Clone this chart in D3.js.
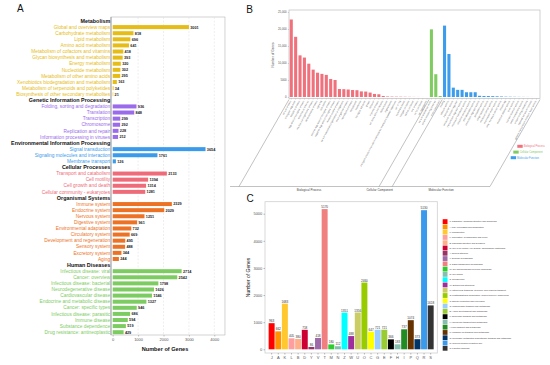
<!DOCTYPE html>
<html><head><meta charset="utf-8">
<script src="https://cdn.jsdelivr.net/npm/d3@7"></script>
<style>body{margin:0;background:#fff} svg{display:block;font-family:"Liberation Sans",Arial,sans-serif}</style>
</head><body>
<svg id="c" width="550" height="365"></svg>
<script>
// ---------- Panel A data (KEGG) ----------
const keggGroups = ["Metabolism","Genetic Information Processing","Environmental Information Processing","Cellular Processes","Organismal Systems","Human Diseases"];
const keggColors = ["#E6BC16","#9A6BEA","#3A9BEC","#EE6C79","#EC7326","#7CCC62"];
const metabolismLabels = ["Global and overview maps","Carbohydrate metabolism","Lipid metabolism","Amino acid metabolism","Metabolism of cofactors and vitamins","Glycan biosynthesis and metabolism","Energy metabolism","Nucleotide metabolism","Metabolism of other amino acids","Xenobiotics biodegradation and metabolism","Metabolism of terpenoids and polyketides","Biosynthesis of other secondary metabolites"];
const metabolismValues = [3001,818,696,641,418,393,320,302,295,163,34,21];
const geneticLabels = ["Folding, sorting and degradation","Translation","Transcription","Chromosome","Replication and repair","Information processing in viruses"];
const geneticValues = [936,848,299,292,228,212];
const environmentalLabels = ["Signal transduction","Signaling molecules and interaction","Membrane transport"];
const environmentalValues = [3654,1761,126];
const cellularLabels = ["Transport and catabolism","Cell motility","Cell growth and death","Cellular community - eukaryotes"];
const cellularValues = [2133,1394,1314,1281];
const organismalLabels = ["Immune system","Endocrine system","Nervous system","Digestive system","Environmental adaptation","Circulatory system","Development and regeneration","Sensory system","Excretory system","Aging"];
const organismalValues = [2329,2029,1251,961,732,669,495,488,344,244];
const diseaseLabels = ["Infectious disease: viral","Cancer: overview","Infectious disease: bacterial","Neurodegenerative disease","Cardiovascular disease","Endocrine and metabolic disease","Cancer: specific types","Infectious disease: parasitic","Immune disease","Substance dependence","Drug resistance: antineoplastic"];
const diseaseValues = [2714,2542,1798,1626,1546,1327,946,686,594,519,429];
const keggTicks = [0,1000,2000,3000,4000];

// ---------- Panel B data (GO) ----------
const goBPLabels = ["cellular process","biological regulation","metabolic process","regulation of biological process","response to stimulus","multicellular organismal process","developmental process","signaling","localization","positive regulation of biological process","negative regulation of biological process","immune system process","cellular component organization or biogenesis","multi-organism process","reproductive process","reproduction","locomotion","biological adhesion","growth","behavior","rhythmic process","cell population proliferation","detoxification","pigmentation","biological process involved in interspecies interaction between organisms","cell killing","biomineralization","nitrogen utilization","carbon utilization","viral process","sulfur utilization","cell aggregation"];
const goBPValues = [22800,17700,12250,11600,9800,8050,7150,6800,6500,5300,5000,2350,2300,2200,2050,2000,1650,1600,1300,900,800,300,150,120,100,90,70,50,30,20,10,5];
const goCCLabels = ["cellular anatomical entity","protein-containing complex","virion component"];
const goCCValues = [19900,6700,300];
const goMFLabels = ["binding","catalytic activity","transporter activity","molecular function regulator","transcription regulator activity","molecular transducer activity","structural molecule activity","ATP-dependent activity","translation regulator activity","antioxidant activity","cargo receptor activity","molecular carrier activity","cytoskeletal motor activity","small molecule sensor activity","protein tag","molecular adaptor activity","toxin activity","nutrient reservoir activity","metallochaperone activity","protein folding chaperone","hijacked molecular function","general transcription initiation factor activity"];
const goMFValues = [21000,12650,2750,2100,2100,1400,1400,1400,350,300,280,250,200,150,100,80,60,40,30,20,10,5];
const goClassNames = ["Biological Process","Cellular Component","Molecular Function"];
const goColors = ["#F0707B","#80CC62","#3C9DEC"];
const goTicks = [0,5000,10000,15000,20000,25000];

// ---------- Panel C data (KOG) ----------
const kogCodes = ["J","A","K","L","B","D","Y","V","T","M","N","Z","W","U","O","C","G","E","F","H","I","P","Q","R","S"];
const kogValues = [963,662,1683,405,380,718,86,418,5170,180,112,1351,488,1356,2460,647,721,721,366,183,737,1074,373,5130,1618];
const kogNames = ["Translation, ribosomal structure and biogenesis","RNA processing and modification","Transcription","Replication, recombination and repair","Chromatin structure and dynamics","Cell cycle control, cell division, chromosome partitioning","Nuclear structure","Defense mechanisms","Signal transduction mechanisms","Cell wall/membrane/envelope biogenesis","Cell motility","Cytoskeleton","Extracellular structures","Intracellular trafficking, secretion, and vesicular transport","Posttranslational modification, protein turnover, chaperones","Energy production and conversion","Carbohydrate transport and metabolism","Amino acid transport and metabolism","Nucleotide transport and metabolism","Coenzyme transport and metabolism","Lipid transport and metabolism","Inorganic ion transport and metabolism","Secondary metabolites biosynthesis, transport and catabolism","General function prediction only","Function unknown"];
const kogColors = ["#FF0000","#FF9400","#FFC82E","#FF9E9E","#FFB088","#CC0033","#993366","#9E6BA8","#F08080","#2ECC2E","#86BFAE","#00FFFF","#9E2E9E","#CCCC66","#99CC00","#FFFF00","#99CCFF","#99CC33","#000000","#86BFAE","#228B22","#663300","#003366","#3A9BEC","#333333"];
const kogTicks = [0,1000,2000,3000,4000,5000];

const svg = d3.select("#c");
const plainFmt = d3.format("d");

// ================= Panel A =================
(function(){
  const g = svg.append("g");
  const groupLabels = [metabolismLabels,geneticLabels,environmentalLabels,cellularLabels,organismalLabels,diseaseLabels];
  const groupValues = [metabolismValues,geneticValues,environmentalValues,cellularValues,organismalValues,diseaseValues];
  const rows = [];
  keggGroups.forEach((h,gi)=>{
    rows.push({type:"h",label:h,id:"h"+gi});
    groupLabels[gi].forEach((l,i)=>rows.push({type:"b",label:l,value:groupValues[gi][i],color:keggColors[gi],id:gi+"_"+i}));
  });
  const y = d3.scalePoint().domain(rows.map(r=>r.id)).range([21,332.2]);
  const x = d3.scaleLinear().domain([0,4000]).range([112.7,214.3]);
  const top=17, bot=335, left=x(-67), right=x(4420);
  g.append("rect").attr("x",left).attr("y",top).attr("width",right-left).attr("height",bot-top)
    .attr("fill","#fff").attr("stroke","#b5b5b5").attr("stroke-width",0.6);
  g.selectAll("line.grid").data(keggTicks.slice(1)).join("line").attr("class","grid")
    .attr("x1",d=>x(d)).attr("x2",d=>x(d)).attr("y1",top).attr("y2",bot)
    .attr("stroke","#dcdcdc").attr("stroke-width",0.5).attr("stroke-dasharray","2,1.5");
  g.append("line").attr("x1",left).attr("x2",left).attr("y1",top).attr("y2",bot).attr("stroke","#888").attr("stroke-width",0.7);
  const bars = rows.filter(r=>r.type==="b");
  g.selectAll("rect.bar").data(bars).join("rect").attr("class","bar")
    .attr("x",x(0)).attr("y",d=>y(d.id)-2).attr("width",d=>x(d.value)-x(0)).attr("height",4).attr("fill",d=>d.color);
  g.selectAll("text.val").data(bars).join("text").attr("class","val")
    .attr("x",d=>x(d.value)+1.3).attr("y",d=>y(d.id)+1.4).text(d=>d.value)
    .attr("font-size",3.8).attr("font-weight","bold").attr("fill","#222");
  g.selectAll("text.lab").data(rows).join("text").attr("class","lab")
    .attr("x",110.2).attr("y",d=>y(d.id)+(d.type==="h"?1.9:1.7)).attr("text-anchor","end")
    .attr("font-size",d=>d.type==="h"?5.4:4.8).attr("font-weight",d=>d.type==="h"?"bold":"normal")
    .attr("fill",d=>d.type==="h"?"#111":d.color).text(d=>d.label);
  const ax = g.append("g").attr("transform",`translate(0,${bot})`)
    .call(d3.axisBottom(x).tickValues(keggTicks).tickFormat(plainFmt).tickSize(1.5).tickPadding(1.5));
  ax.select(".domain").remove();
  ax.selectAll("line").attr("stroke","#888").attr("stroke-width",0.5);
  ax.selectAll("text").attr("font-size",4).attr("fill","#555").attr("font-family","Liberation Sans, Arial");
  g.append("text").attr("x",165).attr("y",351).attr("text-anchor","middle").attr("font-size",5.6)
    .attr("font-weight","bold").attr("fill","#111").text("Number of Genes");
  g.append("text").attr("x",17).attr("y",12).attr("font-size",10).attr("fill","#111").text("A");
})();

// ================= Panel B =================
(function(){
  const g = svg.append("g");
  const items = [];
  [goBPLabels,goCCLabels,goMFLabels].forEach((labs,ci)=>{
    const vals=[goBPValues,goCCValues,goMFValues][ci];
    labs.forEach((l,i)=>items.push({label:l,value:vals[i],cls:ci,id:ci+"_"+i}));
  });
  const top=10, bot=98.5, left=289, right=540;
  const x = d3.scaleBand().domain(items.map(d=>d.id)).range([left+0.3,right-1.5]).paddingInner(0.3).paddingOuter(0.1);
  const y = d3.scaleLinear().domain([0,25000]).range([97,12]);
  g.append("rect").attr("x",left).attr("y",top).attr("width",right-left).attr("height",bot-top)
    .attr("fill","#fff").attr("stroke","#bdbdbd").attr("stroke-width",0.7);
  g.selectAll("rect.bar").data(items).join("rect").attr("class","bar")
    .attr("x",d=>x(d.id)).attr("width",x.bandwidth()).attr("y",d=>y(d.value)).attr("height",d=>y(0)-y(d.value))
    .attr("fill",d=>goColors[d.cls]);
  const ay = g.append("g").attr("transform",`translate(${left},0)`)
    .call(d3.axisLeft(y).tickValues(goTicks).tickSize(1.2).tickPadding(1.2).tickFormat(d=>d>=10000?d3.format(",")(d):plainFmt(d)));
  ay.select(".domain").remove();
  ay.selectAll("line").attr("stroke","#999").attr("stroke-width",0.4);
  ay.selectAll("text").attr("font-size",2.8).attr("fill","#555").attr("font-family","Liberation Sans, Arial");
  const ax = g.append("g").attr("transform",`translate(0,${bot})`)
    .call(d3.axisBottom(x).tickSize(1.2).tickFormat(id=>items.find(d=>d.id===id).label));
  ax.select(".domain").remove();
  ax.selectAll("line").attr("stroke","#999").attr("stroke-width",0.3);
  ax.selectAll("text").attr("font-size",2.3).attr("fill","#666").attr("font-family","Liberation Sans, Arial")
    .attr("text-anchor","end").attr("dy",0).attr("transform","translate(0,2.5) rotate(-62)").attr("y",0).attr("x",0);
  g.append("text").attr("transform","translate(274,55) rotate(-90)").attr("text-anchor","middle")
    .attr("font-size",3.2).attr("fill","#444").text("Number of Genes");
  // bracket lines
  const dx = 50, by = 186.5;
  const bounds = [left, x(items[goBPValues.length].id)-0.8, x(items[goBPValues.length+goCCValues.length].id)-0.8, right];
  g.selectAll("line.br").data(bounds).join("line").attr("class","br")
    .attr("x1",d=>d).attr("y1",bot+1).attr("x2",d=>d-dx).attr("y2",by).attr("stroke","#777").attr("stroke-width",0.45);
  g.append("line").attr("x1",230).attr("x2",right-dx).attr("y1",by).attr("y2",by).attr("stroke","#777").attr("stroke-width",0.45);
  const mids = [ (bounds[0]+bounds[1])/2-dx, (bounds[1]+bounds[2])/2-dx-6, (bounds[2]+bounds[3])/2-dx ];
  g.selectAll("text.brl").data(goClassNames).join("text").attr("class","brl")
    .attr("x",(d,i)=>mids[i]).attr("y",by+4.5).attr("text-anchor","middle").attr("font-size",3).attr("fill","#444").text(d=>d);
  // legend
  const lx=[517.3,513.3,510.7], ly=[144.8,150.6,156.2];
  goClassNames.forEach((n,i)=>{
    g.append("rect").attr("x",lx[i]).attr("y",ly[i]).attr("width",5.4).attr("height",3).attr("fill",goColors[i]);
    g.append("text").attr("x",lx[i]+6.4).attr("y",ly[i]+2.5).attr("font-size",2.6).attr("fill",goColors[i]).text(n);
  });
  g.append("text").attr("x",246.3).attr("y",12.8).attr("font-size",10).attr("fill","#111").text("B");
})();

// ================= Panel C =================
(function(){
  const g = svg.append("g");
  const top=201.7, bot=353, left=265, right=437.3;
  const x = d3.scaleBand().domain(kogCodes).range([left,right]).paddingInner(0.1).paddingOuter(0.55);
  const y = d3.scaleLinear().domain([0,5000]).range([349.3,213.7]);
  g.append("rect").attr("x",left).attr("y",top).attr("width",right-left).attr("height",bot-top)
    .attr("fill","#fff").attr("stroke","#cfcfcf").attr("stroke-width",0.8);
  g.selectAll("rect.bar").data(kogCodes).join("rect").attr("class","bar")
    .attr("x",d=>x(d)).attr("width",x.bandwidth())
    .attr("y",(d,i)=>y(kogValues[i])).attr("height",(d,i)=>y(0)-y(kogValues[i]))
    .attr("fill",(d,i)=>kogColors[i]);
  g.selectAll("text.val").data(kogCodes).join("text").attr("class","val")
    .attr("x",d=>x(d)+x.bandwidth()/2).attr("y",(d,i)=>y(kogValues[i])-1)
    .attr("text-anchor","middle").attr("font-size",3.1).attr("fill","#333").text((d,i)=>kogValues[i]);
  const ay = g.append("g").attr("transform",`translate(${left},0)`)
    .call(d3.axisLeft(y).tickValues(kogTicks).tickFormat(plainFmt).tickSize(1.5).tickPadding(1.2));
  ay.select(".domain").remove();
  ay.selectAll("line").attr("stroke","#777").attr("stroke-width",0.5);
  ay.selectAll("text").attr("font-size",4).attr("fill","#555").attr("font-family","Liberation Sans, Arial");
  const ax = g.append("g").attr("transform",`translate(0,${bot})`)
    .call(d3.axisBottom(x).tickSize(1.5).tickPadding(1.2));
  ax.select(".domain").remove();
  ax.selectAll("line").attr("stroke","#777").attr("stroke-width",0.5);
  ax.selectAll("text").attr("font-size",4).attr("fill","#555").attr("font-family","Liberation Sans, Arial");
  g.append("text").attr("transform","translate(249.5,277.5) rotate(-90)").attr("text-anchor","middle")
    .attr("font-size",5).attr("fill","#111").text("Number of Genes");
  // legend
  const ly = d3.scalePoint().domain(kogCodes).range([219.2,345.9]);
  g.selectAll("rect.key").data(kogCodes).join("rect").attr("class","key")
    .attr("x",442.7).attr("y",d=>ly(d)).attr("width",4.8).attr("height",4.8).attr("fill",(d,i)=>kogColors[i]);
  g.selectAll("text.key").data(kogCodes).join("text").attr("class","key")
    .attr("x",449.5).attr("y",d=>ly(d)+3.2).attr("font-size",2.15).attr("fill","#333")
    .text((d,i)=>d+": "+kogNames[i]);
  g.append("text").attr("x",246.5).attr("y",201.5).attr("font-size",10).attr("fill","#111").text("C");
})();
</script>
</body></html>
